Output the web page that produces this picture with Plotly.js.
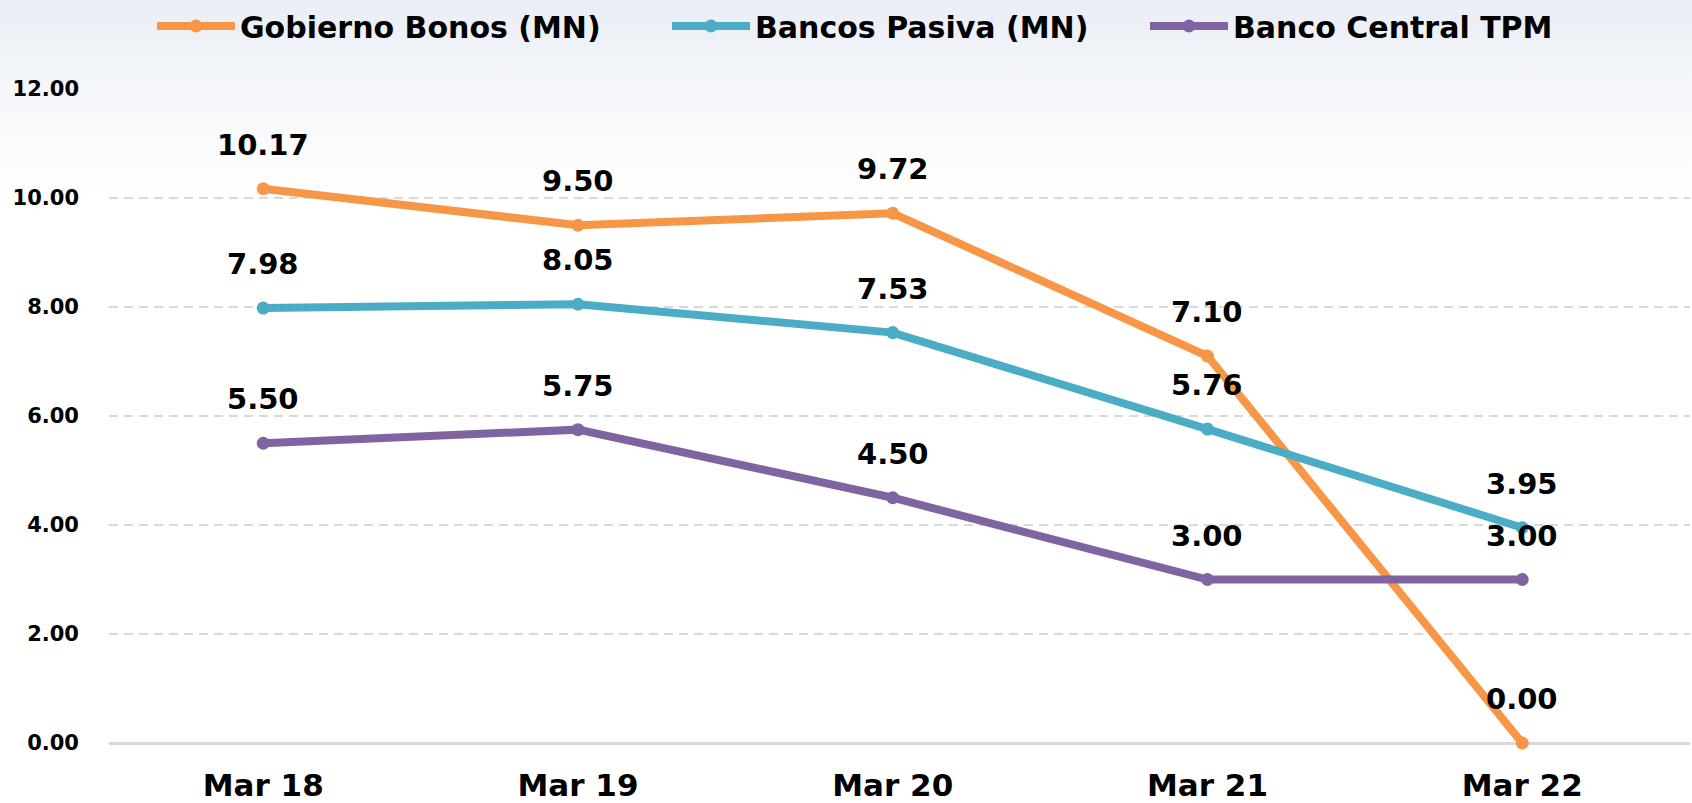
<!DOCTYPE html>
<html>
<head>
<meta charset="utf-8">
<script src="https://cdn.plot.ly/plotly-3.0.1.min.js"></script>
<style>
html,body{margin:0;padding:0;}
body{width:1692px;height:803px;background:linear-gradient(to bottom,#e9edf5 0px,#f1f4f9 60px,#f9fafc 130px,#ffffff 200px);}
#chart{width:1692px;height:803px;}
</style>
</head>
<body>
<div id="chart"></div>
<script>
const categories = ["Mar 18", "Mar 19", "Mar 20", "Mar 21", "Mar 22"];
const gobiernoBonos = [10.17, 9.50, 9.72, 7.10, 0.00];
const bancosPasiva = [7.98, 8.05, 7.53, 5.76, 3.95];
const bancoCentralTPM = [5.50, 5.75, 4.50, 3.00, 3.00];
const seriesNames = ["Gobierno Bonos (MN)", "Bancos Pasiva (MN)", "Banco Central TPM"];
const yTickVals = [0, 2, 4, 6, 8, 10, 12];
const yTickText = ["0.00", "2.00", "4.00", "6.00", "8.00", "10.00", "12.00"];

const colors = ["#F79646", "#4BACC6", "#8064A2"];
const seriesData = [gobiernoBonos, bancosPasiva, bancoCentralTPM];
const legendIds = ["legend", "legend2", "legend3"];
const legendX = [152, 667, 1145];
const fam = '"DejaVu Sans", "Open Sans", sans-serif';

const traces = seriesData.map((vals, i) => ({
  type: "scatter",
  mode: "lines+markers",
  name: seriesNames[i],
  legend: legendIds[i],
  x: categories,
  y: vals,
  line: {color: colors[i], width: 8},
  marker: {color: colors[i], size: 13},
  cliponaxis: false,
  hoverinfo: "skip"
}));

const annotations = [];
seriesData.forEach((vals, i) => {
  vals.forEach((v, j) => {
    annotations.push({
      x: categories[j], y: v, xref: "x", yref: "y",
      text: v.toFixed(2), showarrow: false,
      yshift: 44, yanchor: "middle", xanchor: "center",
      font: {family: fam, size: 29, color: "#000", weight: 700}
    });
  });
});

function legendCfg(x) {
  return {
    orientation: "h", xref: "container", yref: "container",
    x: x / 1692, y: 1, xanchor: "left", yanchor: "top",
    font: {family: fam, size: 30, color: "#000", weight: 700},
    itemwidth: 78,
    bgcolor: "rgba(0,0,0,0)"
  };
}

const layout = {
  width: 1692, height: 803,
  paper_bgcolor: "rgba(0,0,0,0)",
  plot_bgcolor: "rgba(0,0,0,0)",
  margin: {l: 109, r: 2, t: 89, b: 60},
  showlegend: true,
  legend: legendCfg(legendX[0]),
  legend2: legendCfg(legendX[1]),
  legend3: legendCfg(legendX[2]),
  xaxis: {
    type: "category",
    range: [-0.49, 4.533],
    showgrid: false, zeroline: false, showline: false,
    ticks: "", ticklabelstandoff: 21,
    tickfont: {family: fam, size: 31, color: "#000", weight: 700},
    fixedrange: true
  },
  yaxis: {
    range: [0, 12],
    tickvals: yTickVals, ticktext: yTickText,
    showgrid: true, gridcolor: "#d9d9d9", gridwidth: 2, griddash: "9px,6px",
    zeroline: true, zerolinecolor: "#d9d9d9", zerolinewidth: 3,
    showline: false, ticks: "", ticklabelstandoff: 29,
    tickfont: {family: fam, size: 21, color: "#000", weight: 700},
    fixedrange: true
  },
  annotations: annotations
};

Plotly.newPlot("chart", traces, layout, {displayModeBar: false, staticPlot: true});
</script>
</body>
</html>
